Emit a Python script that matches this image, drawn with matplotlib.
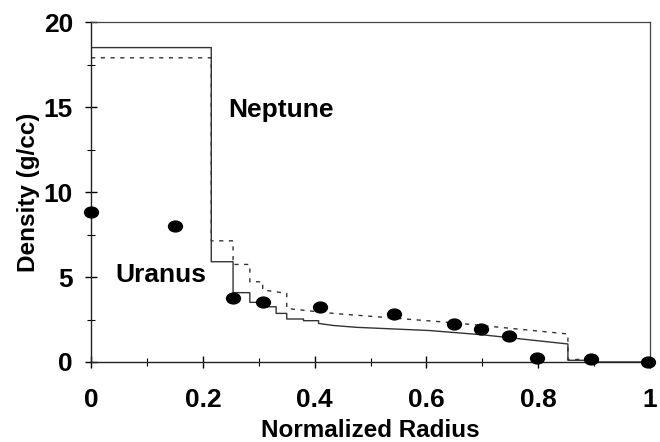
import numpy as np
import matplotlib.pyplot as plt
from matplotlib.path import Path
from matplotlib.transforms import Affine2D
from matplotlib.ticker import MultipleLocator

# Neptune model (solid) - density profile vs normalized radius
nep_r = [0, 0.215, 0.215, 0.254, 0.254, 0.284, 0.284, 0.308, 0.308, 0.331, 0.331,
         0.35, 0.35, 0.38, 0.38, 0.407, 0.407, 0.433, 0.475, 0.606, 0.70, 0.853,
         0.853, 0.90, 0.90, 1.0]
nep_rho = [18.5, 18.5, 5.9, 5.9, 4.08, 4.08, 3.51, 3.51, 3.25, 3.25, 2.86,
           2.86, 2.53, 2.53, 2.43, 2.43, 2.27, 2.15, 2.04, 1.85, 1.6, 1.06,
           0.1, 0.1, 0.0, 0.0]

# Uranus model (dashed)
ura_r = [0, 0.215, 0.215, 0.254, 0.254, 0.284, 0.284, 0.307, 0.307, 0.35, 0.35,
         0.433, 0.648, 0.853, 0.853, 0.90]
ura_rho = [17.9, 17.9, 7.13, 7.13, 5.74, 5.74, 4.72, 4.72, 4.24, 4.04, 3.15,
           2.86, 2.31, 1.65, 0.15, 0.15]

# Uranus points
pts_r = [0.0, 0.15, 0.254, 0.308, 0.41, 0.541, 0.65, 0.698, 0.748, 0.798, 0.894, 0.996]
pts_rho = [8.8, 8.0, 3.75, 3.55, 3.22, 2.82, 2.24, 1.94, 1.53, 0.25, 0.15, 0.0]

plt.rcParams["font.family"] = ["Liberation Sans", "DejaVu Sans"]
plt.rcParams["font.weight"] = "bold"

fig = plt.figure(figsize=(6.6, 4.42), dpi=100)
ax = fig.add_axes([0.138, 0.181, 0.847, 0.769])

# slightly flattened dots, like the scanned figure
ellipse = Path.unit_circle().transformed(Affine2D().scale(1.0, 0.78))

ax.plot(nep_r, nep_rho, color="#333333", lw=1.0)
ax.plot(ura_r, ura_rho, color="#333333", lw=1.0, linestyle=(0, (3, 4)))
ax.plot(pts_r, pts_rho, linestyle="none", marker=ellipse, color="black",
        ms=10, clip_on=False, zorder=5)

ax.text(0.245, 14.8, "Neptune", fontsize=19, fontweight="bold", va="center")
ax.text(0.043, 5.1, "Uranus", fontsize=19, fontweight="bold", va="center")

ax.set_xlim(0, 1)
ax.set_ylim(0, 20)
ax.xaxis.set_minor_locator(MultipleLocator(0.1))
ax.yaxis.set_major_locator(MultipleLocator(5))
ax.yaxis.set_minor_locator(MultipleLocator(2.5))
ax.set_xticks([0, 0.2, 0.4, 0.6, 0.8, 1.0])
ax.set_xticklabels(["0", "0.2", "0.4", "0.6", "0.8", "1"])

ax.tick_params(which="major", direction="inout", length=8, width=1, labelsize=19)
ax.tick_params(axis="x", which="major", pad=15)
ax.tick_params(axis="y", which="major", pad=9)
ax.tick_params(which="minor", direction="inout", length=6, width=0.8)
for lab in ax.get_xticklabels() + ax.get_yticklabels():
    lab.set_fontweight("bold")

ax.set_xlabel("Normalized Radius", fontsize=17.5, fontweight="bold", labelpad=5)
ax.set_ylabel("Density (g/cc)", fontsize=17.5, fontweight="bold", labelpad=3)

for side in ["left", "bottom"]:
    ax.spines[side].set_color("#222222")
    ax.spines[side].set_linewidth(1.0)
for side in ["top", "right"]:
    ax.spines[side].set_color("#444444")
    ax.spines[side].set_linewidth(0.9)

fig.savefig("out.png", dpi=100)
